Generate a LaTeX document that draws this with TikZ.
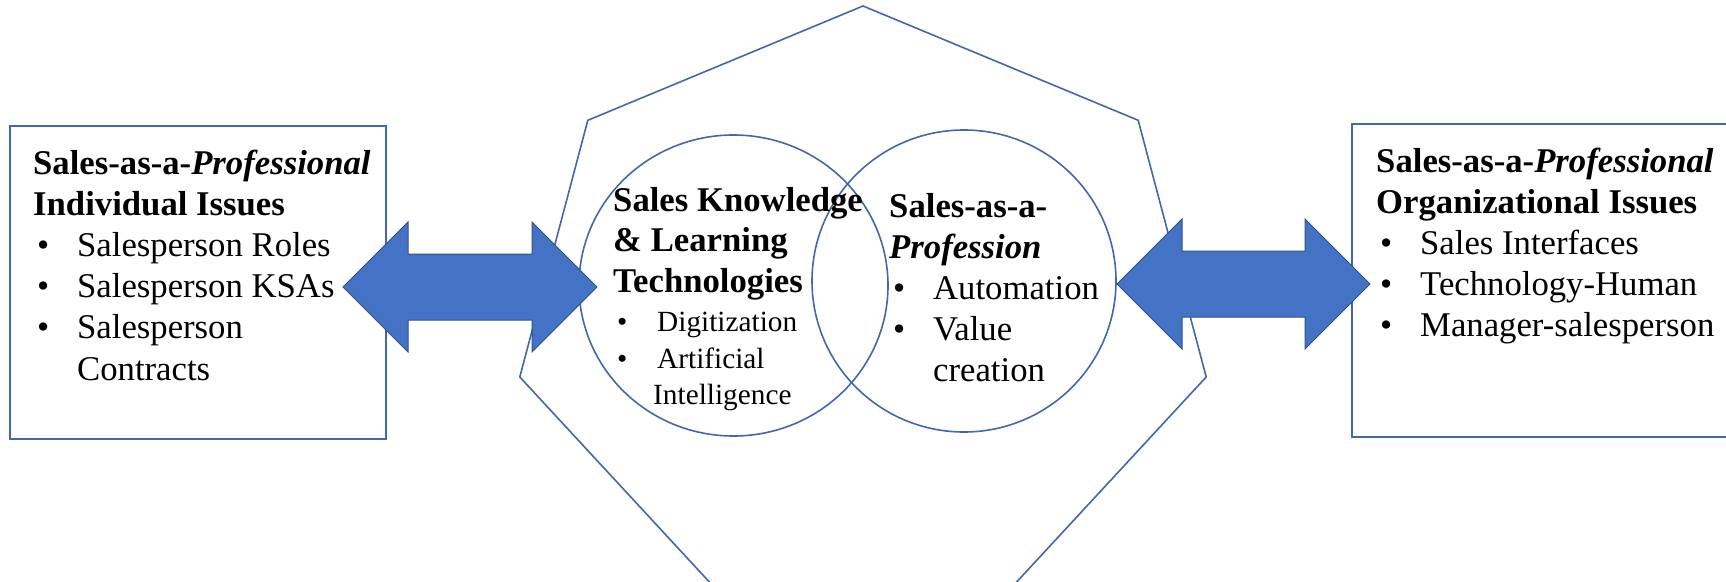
\documentclass[tikz,border=0pt]{standalone}
\usepackage{fontspec}
\setmainfont{Liberation Serif}
\usetikzlibrary{calc,shapes.geometric}
\definecolor{lineblue}{RGB}{65,104,175}
\definecolor{arrowblue}{RGB}{68,114,196}
\definecolor{arrowedge}{RGB}{47,82,143}
\newcommand{\bigtext}{\fontsize{34.7}{41.2}\selectfont}
\newcommand{\smalltext}{\fontsize{29.3}{36.5}\selectfont}
\newcommand{\itm}{\makebox[44pt][l]{\hspace{4pt}\textbullet}}
\tikzstyle{issuebox} = [draw=lineblue, line width=2pt, rectangle, anchor=north west, inner sep=0pt, outer sep=0pt]
\tikzstyle{vennring} = [draw=lineblue, line width=1.6pt, ellipse, inner sep=0pt]
\tikzstyle{heptaline} = [draw=lineblue, line width=1.6pt, line join=miter]
\tikzstyle{blockarrow} = [fill=arrowblue, draw=arrowedge, line width=1pt, line join=miter]
\tikzstyle{textblock} = [anchor=base west, inner sep=0pt, font=\bigtext]

\begin{document}
\begin{tikzpicture}[x=1pt,y=-1pt]
\useasboundingbox (0,0) rectangle (1726,581);
\clip (0,0) rectangle (1726,581);
% outer heptagon
\draw[heptaline] (863,6) -- (587.8,120.3) -- (519.8,377) -- (710.3,583) -- (1015.7,583) -- (1206.2,377) -- (1138.2,120.3) -- cycle;
% the two circles
\node[vennring, minimum width=309, minimum height=301] (knowcircle) at (733.5,285.5) {};
\node[vennring, minimum width=304, minimum height=302] (profcircle) at (964,281) {};
% side boxes
\node[issuebox, minimum width=376, minimum height=313] (indivbox) at (10,126) {};
\node[issuebox, minimum width=390, minimum height=313] (orgbox) at (1352,124) {};
% double arrows
\coordinate (leftA) at (343,287);
\coordinate (leftB) at (597,287);
\coordinate (rightA) at (1117,284);
\coordinate (rightB) at (1370,284);
\filldraw[blockarrow] (leftA) -- ++(65,-65) -- ++(0,32) -- ($(leftB)+(-65,-33)$) -- ++(0,-32) -- (leftB) -- ++(-65,65) -- ++(0,-32) -- ($(leftA)+(65,33)$) -- ++(0,32) -- cycle;
\filldraw[blockarrow] (rightA) -- ++(65,-65) -- ++(0,32) -- ($(rightB)+(-65,-33)$) -- ++(0,-32) -- (rightB) -- ++(-65,65) -- ++(0,-32) -- ($(rightA)+(65,33)$) -- ++(0,32) -- cycle;
% texts
\node[textblock] (indivtext) at (33,174) {%
    \begin{minipage}[t]{400pt}\raggedright
    \textbf{Sales-as-a-\textit{Professional}}\\
    \textbf{Individual Issues}\\
    \itm Salesperson Roles\\
    \itm Salesperson KSAs\\
    \itm Salesperson\\
    \hspace*{44pt}Contracts
    \end{minipage}
};
\node[textblock] (knowtext) at (613,211) {%
    \begin{minipage}[t]{300pt}\raggedright\fontsize{34.7}{40.5}\selectfont
    \textbf{Sales Knowledge}\\
    \textbf{\& Learning}\\
    \textbf{Technologies}\par
    \vspace{3pt}\smalltext
    \itm Digitization\\
    \itm Artificial\\
    \hspace*{40pt}Intelligence
    \end{minipage}
};
\node[textblock] (proftext) at (889,217) {%
    \begin{minipage}[t]{300pt}\raggedright
    \textbf{Sales-as-a-}\\
    \textbf{\textit{Profession}}\\
    \itm Automation\\
    \itm Value\\
    \hspace*{44pt}creation
    \end{minipage}
};
\node[textblock] (orgtext) at (1376,172) {%
    \begin{minipage}[t]{400pt}\raggedright
    \textbf{Sales-as-a-\textit{Professional}}\\
    \textbf{Organizational Issues}\\
    \itm Sales Interfaces\\
    \itm Technology-Human\\
    \itm Manager-salesperson
    \end{minipage}
};
\end{tikzpicture}
\end{document}
